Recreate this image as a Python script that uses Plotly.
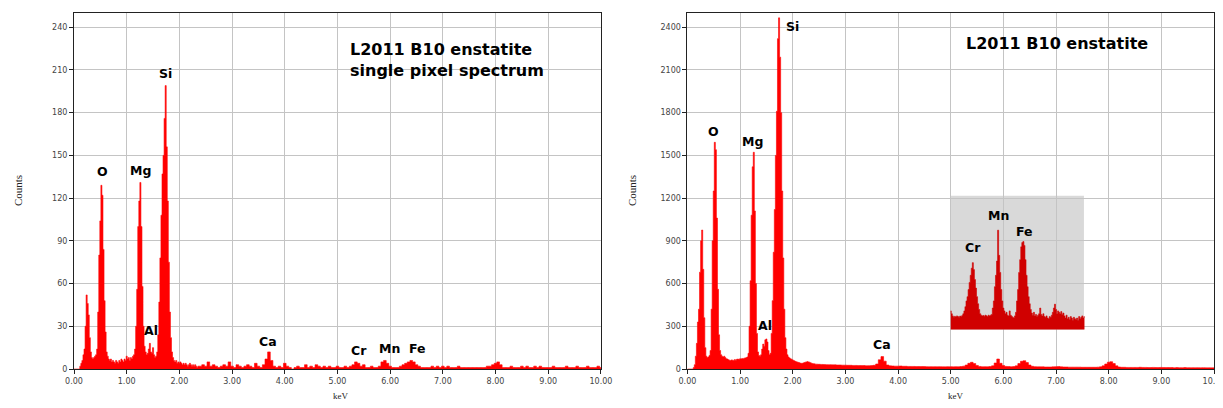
import numpy as np
import plotly.graph_objects as go

# ---------------- data (counts per channel) ----------------
FINE_START, FINE_STEP = 0.0, 0.02      # keV, channel spacing for 0-2.38 keV
COARSE_START, COARSE_STEP = 2.40, 0.05  # keV, channel spacing for 2.40-10 keV
INSET_START, INSET_STEP = 5.0, 0.02

left_fine = [
    0, 0, 0, 0, 0, 0, 2, 4, 6, 10,
    14, 30, 52, 46, 38, 22, 12, 8, 7, 8,
    9, 10, 14, 40, 80, 104, 129, 122, 84, 48,
    26, 12, 9, 7, 6, 7, 5, 6, 5, 4,
    6, 5, 4, 6, 5, 7, 6, 5, 7, 6,
    9, 7, 8, 6, 8, 7, 9, 10, 14, 30,
    56, 100, 118, 131, 100, 58, 30, 16, 12, 10,
    11, 14, 18, 12, 11, 15, 10, 8, 9, 12,
    24, 47, 78, 108, 137, 150, 176, 199, 156, 118,
    75, 40, 22, 12, 8, 6, 5, 6, 4, 5,
    4, 5, 4, 3, 4, 3, 4, 3, 2, 3,
    4, 3, 2, 3, 2, 3, 2, 1, 2, 2,
]
left_coarse = [
    2, 3, 2, 5, 2, 3, 2, 1, 2, 3,
    2, 5, 2, 1, 3, 2, 1, 2, 3, 2,
    1, 4, 2, 1, 3, 7, 12, 6, 2, 1,
    2, 1, 4, 2, 1, 0, 1, 2, 1, 1,
    3, 1, 2, 1, 3, 2, 1, 2, 1, 2,
    1, 1, 2, 1, 1, 2, 1, 2, 3, 5,
    4, 2, 3, 1, 1, 2, 1, 1, 2, 5,
    6, 4, 2, 1, 1, 1, 2, 3, 4, 5,
    6, 5, 3, 2, 1, 1, 1, 1, 2, 1,
    2, 1, 2, 1, 2, 1, 1, 1, 2, 1,
    1, 1, 1, 1, 1, 1, 1, 1, 1, 2,
    2, 3, 4, 5, 3, 1, 1, 1, 2, 1,
    1, 1, 2, 1, 2, 1, 1, 2, 1, 2,
    1, 1, 1, 1, 2, 1, 1, 1, 1, 2,
    1, 1, 1, 2, 1, 1, 1, 2, 1, 1,
    1, 2, 1,
]

right_fine = [
    0, 0, 0, 0, 0, 0, 10, 30, 90, 180,
    330, 420, 680, 900, 976, 700, 360, 150, 90, 80,
    85, 95, 130, 420, 900, 1250, 1592, 1540, 1060, 560,
    240, 130, 100, 90, 85, 90, 80, 72, 70, 65,
    62, 60, 64, 62, 60, 66, 62, 68, 70, 66,
    72, 70, 74, 72, 76, 78, 80, 85, 110, 300,
    620, 1080, 1420, 1522, 1110, 600, 250, 120, 95, 90,
    100, 140, 175, 160, 205, 211, 190, 130, 100, 110,
    250, 480, 820, 1120, 1500, 1810, 2320, 2466, 2190, 1800,
    1250, 780, 420, 220, 140, 100, 85, 78, 72, 68,
    64, 60, 56, 52, 50, 47, 45, 42, 40, 40,
    42, 45, 48, 50, 52, 50, 48, 44, 40, 38,
]
right_coarse = [
    36, 34, 33, 32, 31, 30, 30, 29, 29, 28,
    28, 27, 27, 26, 26, 25, 25, 24, 24, 24,
    23, 23, 24, 26, 35, 65, 87, 55, 28, 22,
    21, 20, 20, 21, 19, 19, 18, 18, 18, 17,
    17, 17, 17, 16, 16, 16, 16, 16, 16, 15,
    15, 16, 16, 15, 16, 16, 17, 20, 28, 40,
    47, 38, 25, 18, 16, 16, 16, 17, 22, 42,
    70, 40, 24, 18, 17, 16, 17, 22, 38, 54,
    58, 45, 28, 19, 16, 15, 15, 15, 14, 14,
    14, 15, 16, 17, 15, 14, 14, 13, 13, 13,
    13, 13, 12, 12, 12, 12, 12, 12, 13, 15,
    22, 35, 48, 51, 38, 22, 14, 12, 12, 11,
    11, 11, 11, 11, 12, 11, 11, 10, 10, 11,
    10, 10, 11, 10, 10, 10, 10, 9, 10, 9,
    9, 10, 9, 9, 9, 9, 9, 8, 9, 8,
    8, 8, 8,
]

# magnified 5-7.5 keV region drawn in the grey inset (heights above inset floor)
inset_counts = [
    130, 110, 95, 85, 92, 88, 95, 90, 86, 94,
    90, 98, 110, 130, 160, 200, 230, 280, 330, 380,
    430, 469, 420, 350, 290, 230, 180, 140, 110, 100,
    95, 98, 92, 100, 96, 90, 100, 95, 100, 105,
    150, 200, 300, 380, 480, 697, 520, 400, 280, 200,
    150, 130, 110, 120, 100, 95, 130, 100, 92, 85,
    80, 95, 120, 200, 280, 400, 490, 580, 610, 617,
    590, 490, 380, 300, 230, 180, 140, 115, 100, 120,
    95, 105, 90, 100, 110, 150, 105, 95, 110, 90,
    85, 95, 80, 75, 90, 85, 100, 120, 150, 177,
    140, 110, 130, 120, 110, 125, 105, 115, 95, 80,
    100, 75, 85, 70, 90, 80, 65, 85, 75, 70,
    80, 65, 90, 75, 85, 95, 80, 90,
]

x_tick_vals = [0, 1, 2, 3, 4, 5, 6, 7, 8, 9, 10]
left_titles = "L2011 B10 enstatite<br>single pixel spectrum"
right_title = "L2011 B10 enstatite"

left_labels = [("O", 0.538, 138.8), ("Mg", 1.264, 139.3), ("Si", 1.738, 207.7),
               ("Al", 1.467, 26.9), ("Ca", 3.69, 19.4), ("Cr", 5.40, 13.3),
               ("Mn", 5.98, 14.5), ("Fe", 6.52, 14.5)]
right_labels = [("O", 0.504, 1669), ("Mg", 1.244, 1599), ("Si", 1.991, 2405),
                ("Al", 1.472, 304), ("Ca", 3.698, 169), ("Cr", 5.416, 854),
                ("Mn", 5.909, 1077), ("Fe", 6.41, 967)]

# ---------------- build ----------------
def energies(start, step, n):
    return np.round(start + step * np.arange(n), 3)

x_left = np.concatenate([energies(FINE_START, FINE_STEP, len(left_fine)),
                         energies(COARSE_START, COARSE_STEP, len(left_coarse))])
y_left = left_fine + left_coarse
x_right = np.concatenate([energies(FINE_START, FINE_STEP, len(right_fine)),
                          energies(COARSE_START, COARSE_STEP, len(right_coarse))])
y_right = right_fine + right_coarse
x_inset = energies(INSET_START, INSET_STEP, len(inset_counts))

RED = "#ff0000"
DARKRED = "#d00000"
INSET_FLOOR = 278

fig = go.Figure()
fig.add_trace(go.Scatter(x=x_left, y=y_left, mode="lines", line=dict(color=RED, width=0.6, shape="hvh"),
                         fill="tozeroy", fillcolor=RED, xaxis="x", yaxis="y", showlegend=False))
fig.add_trace(go.Scatter(x=x_right, y=y_right, mode="lines", line=dict(color=RED, width=0.6, shape="hvh"),
                         fill="tozeroy", fillcolor=RED, xaxis="x2", yaxis="y2", showlegend=False))
fig.add_trace(go.Scatter(x=x_inset, y=[INSET_FLOOR] * len(x_inset), mode="lines",
                         line=dict(color=DARKRED, width=0, shape="hvh"), xaxis="x2", yaxis="y2",
                         showlegend=False))
fig.add_trace(go.Scatter(x=x_inset, y=[INSET_FLOOR + v for v in inset_counts], mode="lines",
                         line=dict(color=DARKRED, width=0.6, shape="hvh"), fill="tonexty",
                         fillcolor=DARKRED, xaxis="x2", yaxis="y2", showlegend=False))

fig.add_shape(type="rect", xref="x2", yref="y2", x0=5.0, x1=7.53, y0=276, y1=1217,
              fillcolor="#d9d9d9", line=dict(width=0), layer="below")

tickfont = dict(family="DejaVu Sans", size=8, color="#444")
common_x = dict(range=[0, 10], tickvals=x_tick_vals, tickformat=".2f", showgrid=True,
                gridcolor="#c4c4c4", gridwidth=1, showline=True, linecolor="#222", linewidth=1,
                mirror=True, ticks="outside", ticklen=4, tickcolor="#222", zeroline=False,
                tickfont=tickfont, ticklabeloverflow="allow")
common_y = dict(showgrid=True, gridcolor="#c4c4c4", gridwidth=1, showline=True, linecolor="#222",
                linewidth=1, mirror=True, ticks="outside", ticklen=4, tickcolor="#222",
                zeroline=False, tickfont=tickfont)

PLOT_W = 1151.3
PLOT_H = 355.6
dom_l = [0, 0.4622]
dom_r = [0.5381, 1]
fig.update_layout(
    width=1217, height=392,
    margin=dict(l=65.6, r=0, t=5, b=31.4),
    paper_bgcolor="white", plot_bgcolor="white",
    xaxis=dict(domain=dom_l, anchor="y", **common_x),
    yaxis=dict(domain=[0, 1], anchor="x", range=[0, 250], dtick=30, **common_y),
    xaxis2=dict(domain=dom_r, anchor="y2", **common_x),
    yaxis2=dict(domain=[0, 1], anchor="x2", range=[0, 2500], dtick=300, **common_y),
)

lab_font = dict(family="DejaVu Sans", size=12.5, color="black")
for t, x, y in left_labels:
    fig.add_annotation(x=x, y=y, xref="x", yref="y", text=f"<b>{t}</b>", showarrow=False,
                       font=lab_font, xanchor="center", yanchor="middle")
for t, x, y in right_labels:
    fig.add_annotation(x=x, y=y, xref="x2", yref="y2", text=f"<b>{t}</b>", showarrow=False,
                       font=lab_font, xanchor="center", yanchor="middle")

title_font = dict(family="DejaVu Sans", size=16, color="black")
fig.add_annotation(x=5.20, y=216.8, xref="x", yref="y", text=f"<b>{left_titles}</b>",
                   showarrow=False, font=title_font, xanchor="left", yanchor="middle", align="left")
fig.add_annotation(x=5.259, y=2288, xref="x2", yref="y2", text=f"<b>{right_title}</b>",
                   showarrow=False, font=title_font, xanchor="left", yanchor="middle", align="left")

axis_title_font = dict(family="Liberation Serif", size=11, color="#222")
for xp in (17, 632):
    fig.add_annotation(x=(xp - 73) / 1142, y=0.5, xref="paper", yref="paper", text="Counts",
                       textangle=-90, showarrow=False, font=axis_title_font,
                       xanchor="center", yanchor="middle")
for xp in (340, 956):
    fig.add_annotation(x=(xp - 73) / 1142, y=-(395.5 - 368.3) / PLOT_H, xref="paper", yref="paper",
                       text="keV", showarrow=False,
                       font=dict(family="Liberation Serif", size=9, color="#222"),
                       xanchor="center", yanchor="middle")

fig.write_html("out.html")
